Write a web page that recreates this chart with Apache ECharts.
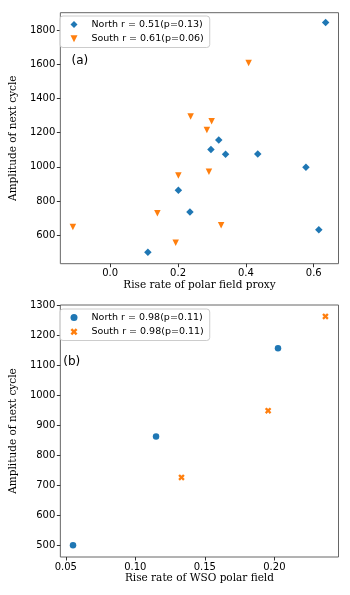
<!DOCTYPE html>
<html><head><meta charset="utf-8">
<script src="https://cdn.jsdelivr.net/npm/echarts@6/dist/echarts.min.js"></script>
<style>html,body{margin:0;padding:0;background:#fff}#c{width:350px;height:595px}</style>
</head><body><div id="c"></div>
<script>
// Panel (a)
const northXA = [0.635, 0.320, 0.297, 0.340, 0.435, 0.577, 0.201, 0.235, 0.615, 0.111];
const northYA = [1843, 1157, 1101, 1073, 1075, 997, 863, 736, 633, 501];
const southXA = [0.408, 0.237, 0.299, 0.285, 0.201, 0.291, 0.139, -0.110, 0.327, 0.193];
const southYA = [1607, 1295, 1266, 1216, 949, 972, 729, 649, 659, 557];
const xRangeA = [-0.147, 0.673];
const yRangeA = [434, 1901];
const xTicksA = [0.0, 0.2, 0.4, 0.6];
const yTicksA = [600, 800, 1000, 1200, 1400, 1600, 1800];
const legendA = ['North r = 0.51(p=0.13)', 'South r = 0.61(p=0.06)'];
const xTitleA = 'Rise rate of polar field proxy';
// Panel (b)
const northXB = [0.0552, 0.1149, 0.2026];
const northYB = [500, 862, 1156];
const southXB = [0.1332, 0.1955, 0.2367];
const southYB = [726, 948, 1262];
const xRangeB = [0.0461, 0.2461];
const yRangeB = [461, 1300];
const xTicksB = [0.05, 0.10, 0.15, 0.20];
const yTicksB = [500, 600, 700, 800, 900, 1000, 1100, 1200, 1300];
const legendB = ['North r = 0.98(p=0.11)', 'South r = 0.98(p=0.11)'];
const xTitleB = 'Rise rate of WSO polar field';
const yTitle = 'Amplitude of next cycle';
const panelLabels = ['(a)', '(b)'];

const BLUE = '#1f77b4', ORANGE = '#ff7f0e';
const DIAMOND = 'path://M1,0L2,1L1,2L0,1Z';
const TRI_DOWN = 'path://M0,0L2,0L1,2Z';
const XFILL = 'path://M1,0L2,1L3,0L4,1L3,2L4,3L3,4L2,3L1,4L0,3L1,2L0,1Z';

const zip = (xs, ys) => xs.map((x, i) => [x, ys[i]]);
const SANS = 'DejaVu Sans', SERIF = 'DejaVu Serif';

function xAxis(idx, range, ticks, title, fmt) {
  return {
    type: 'value', gridIndex: idx, min: range[0], max: range[1],
    splitLine: {show: false}, axisLine: {show: false, onZero: false},
    axisTick: {show: true, customValues: ticks, length: 3.5, lineStyle: {color: '#333', width: 1}},
    axisLabel: {customValues: ticks, formatter: fmt, margin: 5, fontFamily: SANS, fontSize: 10, color: '#000'},
    name: title, nameLocation: 'middle', nameGap: 16,
    nameTextStyle: {fontFamily: SERIF, fontSize: 10.5, color: '#000'}
  };
}
function yAxis(idx, range, ticks) {
  return {
    type: 'value', gridIndex: idx, min: range[0], max: range[1],
    splitLine: {show: false}, axisLine: {show: false, onZero: false},
    axisTick: {show: true, customValues: ticks, length: 3.5, lineStyle: {color: '#333', width: 1}},
    axisLabel: {customValues: ticks, formatter: v => String(Math.round(v)), margin: 5, fontFamily: SANS, fontSize: 10, color: '#000'},
    name: yTitle, nameLocation: 'middle', nameGap: 30,
    nameTextStyle: {fontFamily: SERIF, fontSize: 10.5, color: '#000'}
  };
}
function legend(top, names, icons) {
  return {
    orient: 'vertical', left: 60, top: top,
    data: names.map((n, i) => ({name: n, icon: icons[i]})),
    itemWidth: 7, itemHeight: 7, itemGap: 2.3,
    padding: [2.4, 6, 2.8, 10.5],
    backgroundColor: 'rgba(255,255,255,0.8)', borderColor: '#cccccc', borderWidth: 1, borderRadius: 3,
    textStyle: {fontFamily: SANS, fontSize: 9.5, color: '#000', lineHeight: 12, padding: [0, 0, 0, 9]},
    selectedMode: false
  };
}

const chart = echarts.init(document.getElementById('c'), null, {renderer: 'canvas'});
chart.setOption({
  animation: false,
  backgroundColor: '#fff',
  title: [
    {text: panelLabels[0], left: 71.5, top: 53.7, padding: 0, textStyle: {fontFamily: SANS, fontSize: 12, fontWeight: 'normal', color: '#000', lineHeight: 14}},
    {text: panelLabels[1], left: 63.3, top: 354.7, padding: 0, textStyle: {fontFamily: SANS, fontSize: 12, fontWeight: 'normal', color: '#000', lineHeight: 14}}
  ],
  grid: [
    {left: 55.5, top: 12.7, width: 283, height: 251, show: true, borderColor: '#666', borderWidth: 1, backgroundColor: 'transparent'},
    {left: 55.5, top: 305, width: 283, height: 252, show: true, borderColor: '#666', borderWidth: 1, backgroundColor: 'transparent'}
  ],
  xAxis: [
    xAxis(0, xRangeA, xTicksA, xTitleA, v => v.toFixed(1)),
    xAxis(1, xRangeB, xTicksB, xTitleB, v => v.toFixed(2))
  ],
  yAxis: [yAxis(0, yRangeA, yTicksA), yAxis(1, yRangeB, yTicksB)],
  legend: [
    legend(16, legendA, [DIAMOND, TRI_DOWN]),
    legend(309, legendB, ['circle', XFILL])
  ],
  series: [
    {type: 'scatter', name: legendA[0], xAxisIndex: 0, yAxisIndex: 0, data: zip(northXA, northYA), symbol: DIAMOND, symbolSize: 7.5, itemStyle: {color: BLUE, opacity: 1}},
    {type: 'scatter', name: legendA[1], xAxisIndex: 0, yAxisIndex: 0, data: zip(southXA, southYA), symbol: TRI_DOWN, symbolSize: 6.5, itemStyle: {color: ORANGE, opacity: 1}},
    {type: 'scatter', name: legendB[0], xAxisIndex: 1, yAxisIndex: 1, data: zip(northXB, northYB), symbol: 'circle', symbolSize: 6.5, itemStyle: {color: BLUE, opacity: 1}},
    {type: 'scatter', name: legendB[1], xAxisIndex: 1, yAxisIndex: 1, data: zip(southXB, southYB), symbol: XFILL, symbolSize: 6.5, itemStyle: {color: ORANGE, opacity: 1}}
  ]
});
</script></body></html>
